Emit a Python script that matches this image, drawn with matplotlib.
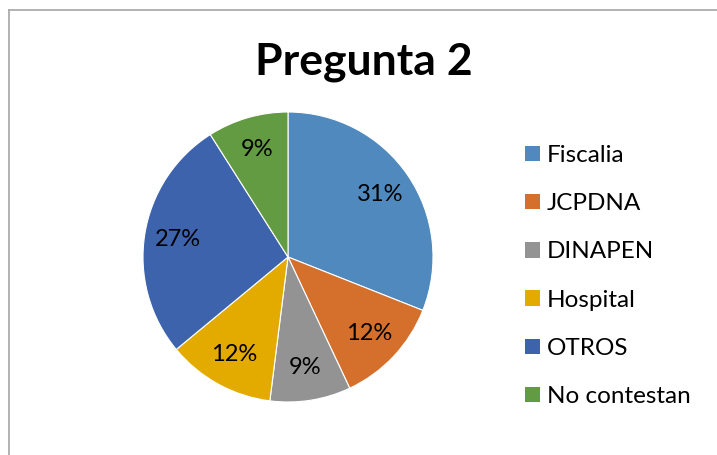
import matplotlib
matplotlib.use('Agg')
import matplotlib.pyplot as plt
from matplotlib.lines import Line2D
from matplotlib.patches import Patch

labels = ['Fiscalia', 'JCPDNA', 'DINAPEN', 'Hospital', 'OTROS', 'No contestan']
values = [31, 12, 9, 12, 27, 9]
colors = ['#4F89BD', '#D4702C', '#939393', '#E3AA00', '#3C63AC', '#629B41']

W, H = 717, 455
plt.rcParams['font.family'] = ['Lato', 'DejaVu Sans']

fig = plt.figure(figsize=(W / 100, H / 100), dpi=100)

# chart frame (only top and left edges visible)
fig.add_artist(Line2D([8.5 / W, 8.5 / W], [0, 1 - 9.5 / H], transform=fig.transFigure,
                      color='#A6A6A6', lw=1.2))
fig.add_artist(Line2D([8.5 / W, 1], [1 - 9.5 / H, 1 - 9.5 / H], transform=fig.transFigure,
                      color='#A6A6A6', lw=1.2))

cx, cy, r = 288, 257, 145
ax = fig.add_axes([(cx - r) / W, (H - cy - r) / H, 2 * r / W, 2 * r / H])
wedges, texts, autotexts = ax.pie(values, colors=colors, startangle=90, counterclock=False,
                                  autopct='%d%%', pctdistance=0.77,
                                  wedgeprops=dict(edgecolor='white', linewidth=0.8),
                                  textprops=dict(fontsize=17, color='black'))
ax.set_xlim(-1, 1)
ax.set_ylim(-1, 1)

fig.text(364 / W, 1 - 62 / H, 'Pregunta 2', ha='center', va='center',
         fontsize=32, fontweight='bold')

handles = [Patch(facecolor=c, edgecolor='none') for c in colors]
fig.legend(handles, labels, loc='center left', bbox_to_anchor=(525 / W, 1 - 276 / H),
           frameon=False, fontsize=17.5, handlelength=0.6, handleheight=0.6,
           handletextpad=0.3, labelspacing=1.12, borderpad=0, borderaxespad=0)

fig.savefig('out.png', dpi=100)
